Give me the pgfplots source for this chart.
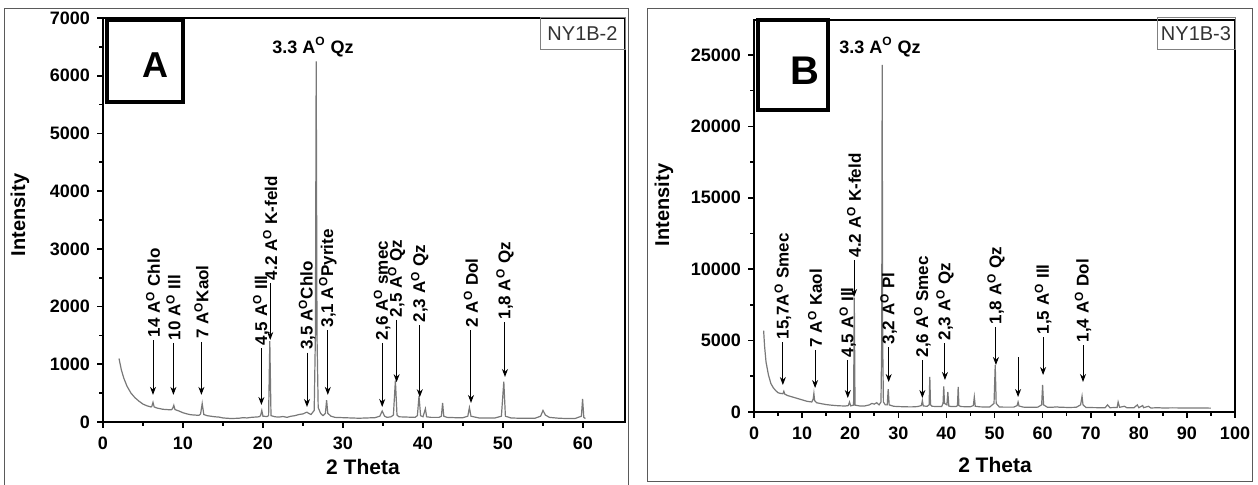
\documentclass[border=0pt]{standalone}
\usepackage{fontspec}
\setmainfont{Liberation Sans}
\usepackage{pgfplots}
\pgfplotsset{compat=1.18}
\usetikzlibrary{arrows.meta}
\definecolor{dat}{RGB}{120,120,120}
\definecolor{frm}{RGB}{90,90,90}
\pgfplotsset{xrd/.style={
  scale only axis, clip=false,
  axis line style={line width=1pt},
  tick align=outside, tick pos=left,
  tick style={black, line width=0.8pt},
  major tick length=3pt, minor tick length=2pt,
  minor x tick num=1, minor y tick num=1,
  tick label style={font=\bfseries\fontsize{9}{10}\selectfont},
  xticklabel style={yshift=-1pt},
  /pgf/number format/assume math mode=true,
  /pgf/number format/1000 sep={},
  scaled y ticks=false,
  xmin=0, ymin=0,
}}
\newcommand{\ann}[4]{% x, ystart, yend, text
  \draw[line width=0.5pt,-{Stealth[length=4pt,width=3pt]}] (axis cs:#1,#2) -- (axis cs:#1,#3);
  \node[rotate=90,anchor=west,inner sep=1.2pt,font=\bfseries\fontsize{8.5}{9}\selectfont] at (axis cs:#1,#2) {#4};}
\newcommand{\Ao}{A\textsuperscript{O}}
\begin{document}
\begin{tikzpicture}
\useasboundingbox (0,0) rectangle (629pt,242.5pt);
% outer frames
\draw[frm,line width=0.5pt] (2pt,-1pt) -- (2pt,238pt) -- (314pt,238pt) -- (314pt,-1pt);
\draw[frm,line width=0.5pt] (323.5pt,1.5pt) rectangle (626pt,238pt);
% ---------------- Panel A ----------------
\begin{axis}[xrd, at={(51.5pt,31.5pt)}, anchor=south west,
  width=261pt, height=202pt, xmax=65.25, ymax=7000,
  xtick={0,10,...,60}, ytick={0,1000,...,7000}]
\addplot[dat, line width=0.6pt] coordinates {
(2,1100)(2.3,900)(2.6,760)(3,620)(3.5,500)(4,420)(4.5,360)(5,310)(5.5,280)(6,260)(6.1,270)(6.25,340)(6.4,260)(6.8,240)(7.5,220)(8,215)(8.5,210)(8.7,230)(8.85,290)(9.0,215)(9.5,190)(10,160)(10.5,140)(11,125)(11.5,120)(12,115)(12.2,140)(12.4,320)(12.6,130)(13,110)(13.5,100)(14,90)(14.5,85)(15,70)(15.5,65)(16,60)(17,65)(17.5,75)(18,70)(18.5,80)(19,85)(19.5,90)(19.7,110)(19.85,200)(20,100)(20.5,95)(20.7,110)(20.85,1400)(21.0,110)(21.5,90)(22,85)(22.5,95)(23,80)(23.5,100)(24,110)(24.5,130)(25,140)(25.3,160)(25.5,170)(25.7,150)(26,130)(26.4,200)(26.55,1500)(26.65,6250)(26.75,1500)(26.9,250)(27.2,150)(27.5,110)(27.8,150)(27.95,380)(28.1,150)(28.5,100)(29,80)(30,75)(31,70)(32,65)(33,70)(34,75)(34.6,100)(34.9,190)(35.2,100)(35.5,80)(36,90)(36.3,120)(36.55,720)(36.75,120)(37,90)(38,85)(39,80)(39.3,110)(39.5,450)(39.7,110)(40,90)(40.3,230)(40.45,90)(41,80)(42,80)(42.3,100)(42.45,330)(42.6,100)(43,80)(44,75)(45,75)(45.6,100)(45.8,250)(46,100)(47,70)(48,70)(49,70)(49.8,100)(50.1,700)(50.3,100)(51,70)(52,65)(53,65)(54,65)(54.7,100)(55,200)(55.3,120)(55.8,80)(57,65)(58,60)(59,60)(59.8,100)(59.95,400)(60.1,80)(60.3,60)
};
\ann{6.25}{1420}{470}{14 \Ao\ Chlo}
\ann{8.8}{1370}{470}{10 \Ao\ Ill}
\ann{12.3}{1390}{470}{7 \Ao Kaol}
\ann{19.8}{1280}{295}{4,5 \Ao\ Ill}
\ann{20.9}{2410}{1420}{4.2 \Ao\ K-feld}
\ann{25.5}{1200}{260}{3,5 \Ao Chlo}
\ann{28.1}{1590}{470}{3,1 \Ao Pyrite}
\ann{34.9}{1370}{260}{2,6 \Ao\ smec}
\ann{36.7}{1770}{690}{2,5 \Ao\ Qz}
\ann{39.6}{1680}{430}{2,3 \Ao\ Qz}
\ann{46}{1590}{330}{2 \Ao\ Dol}
\ann{50.25}{1730}{780}{1,8 \Ao\ Qz}
\node[font=\bfseries\fontsize{9}{10}\selectfont] at (axis cs:26.25,6500) {3.3 \Ao\ Qz};
\end{axis}
% ---------------- Panel B ----------------
\begin{axis}[xrd, at={(377pt,36.5pt)}, anchor=south west,
  width=240.5pt, height=196pt, xmax=100, ymax=27450,
  xtick={0,10,...,100}, ytick={0,5000,...,25000}]
\addplot[dat, line width=0.6pt] coordinates {
(2,5700)(2.2,4600)(2.5,3500)(3,2600)(3.5,2000)(4,1700)(4.5,1500)(5,1350)(5.5,1300)(6,1280)(6.2,1450)(6.4,1250)(7,1150)(8,1050)(9,950)(10,850)(11,750)(12,700)(12.3,900)(12.45,1300)(12.6,800)(13,650)(14,580)(15,520)(16,480)(17,450)(18,430)(19,420)(19.6,450)(19.85,700)(20.1,430)(20.7,480)(20.85,8000)(21.0,480)(22,420)(23,420)(24,500)(24.5,600)(25,550)(25.5,650)(26,500)(26.4,700)(26.55,5000)(26.65,24300)(26.75,5000)(26.9,700)(27.3,500)(27.7,500)(27.9,1600)(28.1,500)(29,400)(30,380)(31,370)(32,360)(33,360)(34,380)(34.8,450)(35.0,800)(35.2,420)(36,400)(36.4,500)(36.55,2450)(36.7,500)(37,400)(38,380)(39,380)(39.3,600)(39.45,1800)(39.6,600)(40.1,500)(40.3,1400)(40.5,420)(41,380)(42,380)(42.3,450)(42.45,1750)(42.6,450)(43,380)(44,370)(45,370)(45.6,450)(45.8,1050)(46,400)(47,360)(48,350)(49,350)(49.9,600)(50.15,3300)(50.35,600)(51,350)(52,340)(53,340)(54,340)(54.7,450)(54.9,700)(55.1,420)(56,340)(57,330)(58,330)(59,340)(59.8,500)(60.0,1900)(60.2,500)(61,330)(62,330)(63,360)(63.5,330)(64,330)(65,320)(66,320)(67,330)(67.9,500)(68.2,1100)(68.4,500)(69,320)(70,310)(72,300)(73,300)(73.5,500)(74,300)(75.5,320)(75.7,700)(76,330)(77,400)(77.5,300)(79,300)(79.7,500)(80,300)(80.8,450)(81,300)(82,400)(82.5,280)(84,300)(85,280)(87,290)(90,280)(93,280)(95,270)
};
\ann{6.0}{4900}{1890}{15,7\Ao\ Smec}
\ann{12.7}{4340}{1680}{7 \Ao\ Kaol}
\ann{19.5}{3640}{980}{4,5 \Ao\ Ill}
\ann{20.8}{10640}{8050}{4.2 \Ao\ K-feld}
\ann{28.0}{4550}{2100}{3,2 \Ao\ Pl}
\ann{35.0}{3640}{980}{2,6 \Ao\ Smec}
\ann{39.7}{4830}{2240}{2,3 \Ao\ Qz}
\ann{50.3}{5950}{3290}{1,8 \Ao\ Qz}
\draw[line width=0.5pt,-{Stealth[length=4pt,width=3pt]}] (axis cs:54.9,3850) -- (axis cs:54.9,1050);
\ann{60.1}{5250}{2590}{1,5 \Ao\ Ill}
\ann{68.4}{4690}{2100}{1,4 \Ao\ Dol}
\node[font=\bfseries\fontsize{9}{10}\selectfont] at (axis cs:26.2,25550) {3.3 \Ao\ Qz};
\end{axis}
% boxes and labels
\draw[line width=2pt] (53.5pt,232.5pt) rectangle (91.5pt,191.5pt);
\node[font=\bfseries\fontsize{18}{20}\selectfont] at (77.5pt,210pt) {A};
\draw[line width=2pt] (379pt,232.5pt) rectangle (414pt,187.5pt);
\node[font=\bfseries\fontsize{20}{22}\selectfont] at (402.5pt,207pt) {B};
\draw[gray,line width=0.5pt] (270pt,233.5pt) rectangle (312.5pt,217.5pt);
\node[text=black!80,font=\fontsize{10}{11}\selectfont] at (291.25pt,225.5pt) {NY1B-2};
\draw[gray,line width=0.5pt] (578.5pt,233.5pt) rectangle (617.5pt,217.5pt);
\node[text=black!80,font=\fontsize{10}{11}\selectfont] at (598pt,225.5pt) {NY1B-3};
\node[rotate=90,font=\bfseries\fontsize{10}{11}\selectfont] at (10pt,135pt) {Intensity};
\node[rotate=90,font=\bfseries\fontsize{10}{11}\selectfont] at (332pt,140pt) {Intensity};
\node[font=\bfseries\fontsize{10.5}{11}\selectfont] at (181.5pt,9pt) {2 Theta};
\node[font=\bfseries\fontsize{10.5}{11}\selectfont] at (497.5pt,10pt) {2 Theta};
\end{tikzpicture}
\end{document}
